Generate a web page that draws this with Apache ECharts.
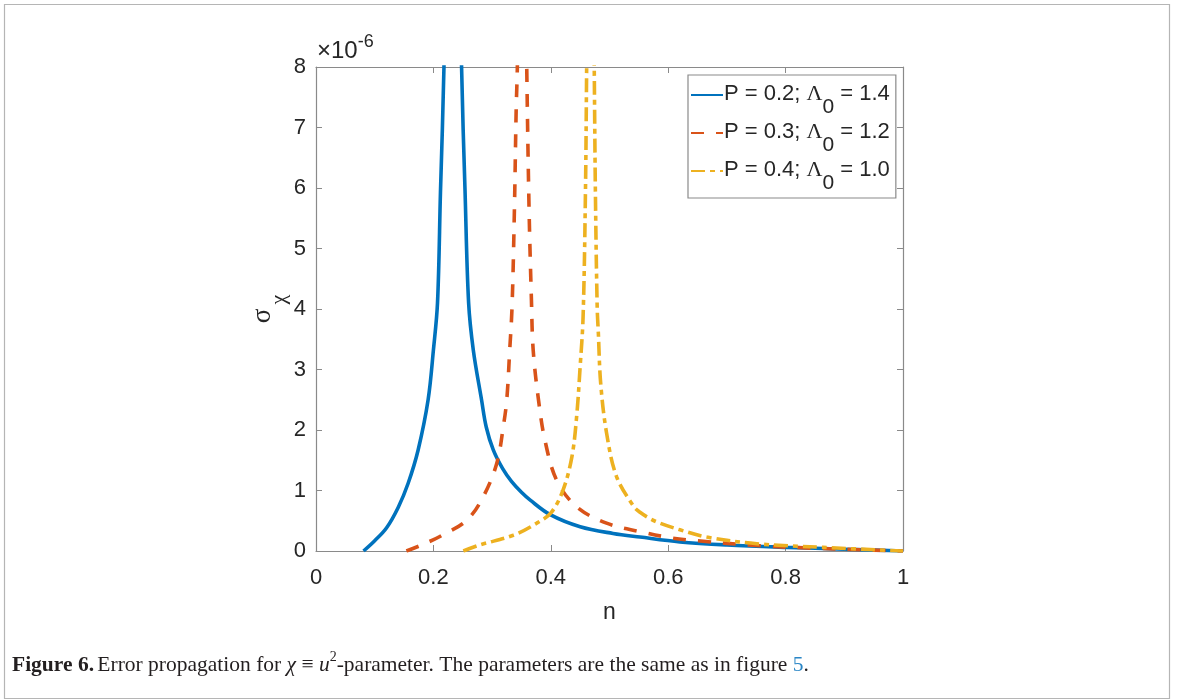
<!DOCTYPE html>
<html><head><meta charset="utf-8">
<script src="https://cdn.jsdelivr.net/npm/echarts@6/dist/echarts.min.js"></script>
<style>html,body{margin:0;padding:0;background:#fff}#c{width:1181px;height:700px}</style>
</head><body><div id="c"></div>
<script>
// ---- data ----
const xTicks = [0, 0.2, 0.4, 0.6, 0.8, 1];
const yTicks = [0, 1, 2, 3, 4, 5, 6, 7, 8];
const pValues = ['0.2', '0.3', '0.4'];
const lambdaValues = ['1.4', '1.2', '1.0'];
const seriesNames = ['P = 0.2; Λ0 = 1.4', 'P = 0.3; Λ0 = 1.2', 'P = 0.4; Λ0 = 1.0'];

const blueData = [
  [0.081, 0], [0.100, 0.17], [0.120, 0.38], [0.140, 0.72], [0.157, 1.12], [0.174, 1.67],
  [0.191, 2.5], [0.200, 3.32], [0.207, 4.1], [0.212, 5.92], [0.218, 8], [0.222, 11],
  [0.244, 11], [0.248, 8], [0.254, 5.92], [0.260, 4.1], [0.268, 3.32], [0.282, 2.5],
  [0.290, 2.05], [0.302, 1.67], [0.318, 1.36], [0.333, 1.15], [0.350, 0.97], [0.365, 0.84],
  [0.399, 0.60], [0.450, 0.40], [0.506, 0.29], [0.552, 0.23], [0.620, 0.15], [0.700, 0.10],
  [0.802, 0.06], [0.900, 0.03], [1.0, 0]
];
const redData = [
  [0.154, 0], [0.180, 0.10], [0.211, 0.24], [0.257, 0.51], [0.285, 0.90], [0.308, 1.45],
  [0.319, 2.05], [0.325, 2.5], [0.330, 3.32], [0.334, 4.04], [0.338, 5.64], [0.341, 7.29],
  [0.343, 8], [0.347, 11], [0.355, 11], [0.359, 8], [0.363, 5.64], [0.367, 4.15], [0.370, 3.32],
  [0.379, 2.5], [0.390, 1.83], [0.410, 1.17], [0.444, 0.73], [0.495, 0.46], [0.552, 0.32],
  [0.603, 0.22], [0.649, 0.17], [0.751, 0.09], [0.850, 0.045], [0.915, 0.025], [1.0, 0]
];
const yellowData = [
  [0.251, 0], [0.279, 0.10], [0.336, 0.26], [0.376, 0.46], [0.401, 0.64], [0.421, 1.01],
  [0.436, 1.56], [0.444, 2.22], [0.450, 3.05], [0.455, 3.87], [0.459, 5.91], [0.461, 7.9],
  [0.464, 11], [0.471, 11], [0.474, 8], [0.476, 5.91], [0.479, 4.04], [0.481, 3.6],
  [0.485, 2.77], [0.495, 1.95], [0.512, 1.23], [0.541, 0.74], [0.552, 0.64], [0.570, 0.53],
  [0.586, 0.46], [0.620, 0.35], [0.666, 0.23], [0.751, 0.12], [0.864, 0.06], [1.0, 0]
];

const colors = ['#0072BD', '#D95319', '#EDB120'];
const dashes = ['solid', [13, 12], [14, 5, 5, 5]];
const dataSets = [blueData, redData, yellowData];

const chart = echarts.init(document.getElementById('c'), null, {renderer: 'canvas'});
const axisGrey = '#8a8a8a';
const textCol = '#262626';
const sans = 'Liberation Sans, Arial, sans-serif';
const serif = 'Liberation Serif, Times New Roman, serif';

function baseX(show) {
  return {
    type: 'value', min: xTicks[0], max: xTicks[xTicks.length - 1], interval: 0.2,
    position: show ? 'bottom' : 'top',
    axisLine: {show: true, onZero: false, lineStyle: {color: axisGrey, width: 1.2}},
    axisTick: {show: true, inside: true, length: 6, lineStyle: {color: axisGrey}},
    axisLabel: {show: show, color: textCol, fontSize: 22, fontFamily: sans, margin: 16},
    splitLine: {show: false}
  };
}
function baseY(show) {
  return {
    type: 'value', min: yTicks[0], max: yTicks[yTicks.length - 1], interval: 1,
    position: show ? 'left' : 'right',
    axisLine: {show: true, onZero: false, lineStyle: {color: axisGrey, width: 1.2}},
    axisTick: {show: true, inside: true, length: 6, lineStyle: {color: axisGrey}},
    axisLabel: {show: show, color: textCol, fontSize: 22, fontFamily: sans, margin: 10},
    splitLine: {show: false}
  };
}

const xMain = baseX(true);
xMain.name = 'n';
xMain.nameLocation = 'middle';
xMain.nameGap = 50;
xMain.nameTextStyle = {color: textCol, fontSize: 23, fontFamily: sans};

const yMain = baseY(true);
yMain.name = '{s|σ}{c|χ}';
yMain.nameLocation = 'middle';
yMain.nameRotate = 90;
yMain.nameGap = 37;
yMain.nameTextStyle = {
  color: textCol,
  rich: {
    s: {fontSize: 27, fontFamily: serif, color: textCol, lineHeight: 26, verticalAlign: 'top'},
    c: {fontSize: 22, fontFamily: serif, color: textCol, lineHeight: 22, padding: [18, 0, 0, 4], verticalAlign: 'top'}
  }
};

const option = {
  backgroundColor: '#ffffff',
  animation: false,
  grid: {left: 316, top: 67, width: 587, height: 484, containLabel: false},
  xAxis: [xMain, baseX(false)],
  yAxis: [yMain, baseY(false)],
  legend: {
    orient: 'vertical',
    left: 688, top: 75,
    padding: [8, 6, 4, 2],
    itemGap: 3,
    itemWidth: 32,
    itemHeight: 14,
    backgroundColor: '#ffffff',
    borderColor: '#8a8a8a',
    borderWidth: 1.2,
    borderRadius: 0,
    itemStyle: {opacity: 0},
    data: seriesNames,
    formatter: function (name) {
      const i = seriesNames.indexOf(name);
      return '{a|P = ' + pValues[i] + '; }{l|Λ}{s|0}{a| = ' + lambdaValues[i] + '}';
    },
    textStyle: {
      color: textCol,
      padding: [0, 0, 0, -4],
      rich: {
        a: {fontSize: 22, fontFamily: sans, color: textCol, lineHeight: 24, verticalAlign: 'top'},
        l: {fontSize: 22, fontFamily: serif, color: textCol, lineHeight: 24, verticalAlign: 'top'},
        s: {fontSize: 21, fontFamily: sans, color: textCol, lineHeight: 20, padding: [14, 0, 0, 0], verticalAlign: 'top'}
      }
    }
  },
  series: dataSets.map(function (d, i) {
    return {
      name: seriesNames[i],
      type: 'line',
      data: d,
      xAxisIndex: 0, yAxisIndex: 0,
      showSymbol: false, symbol: 'none',
      smooth: 0.35,
      clip: true,
      color: colors[i],
      lineStyle: {color: colors[i], width: 3.6, type: dashes[i], cap: 'butt'},
      z: 3 + i
    };
  }),
  graphic: [
    {type: 'rect', left: 2, top: 2, shape: {width: 1165, height: 694},
     style: {fill: 'none', stroke: '#b5b5b5', lineWidth: 1.2}, silent: true},
    {type: 'text', left: 317, top: 33,
     style: {text: '{m|×10}{e|-6}', rich: {
       m: {fontSize: 24, fontFamily: sans, fill: textCol, lineHeight: 30, verticalAlign: 'bottom'},
       e: {fontSize: 18, fontFamily: sans, fill: textCol, lineHeight: 18, verticalAlign: 'top'}
     }}},
    {type: 'text', left: 12, top: 650,
     style: {text: '{b|Figure 6.} {r|Error propagation for }{i|χ}{r| ≡ }{i|u}{p|2}{r|-parameter. The parameters are the same as in figure }{k|5}{r|.}',
       rich: {
         b: {fontSize: 21.5, fontFamily: serif, fontWeight: 'bold', fill: '#231f20', lineHeight: 26, verticalAlign: 'bottom'},
         r: {fontSize: 21.5, fontFamily: serif, fill: '#231f20', lineHeight: 26, verticalAlign: 'bottom'},
         i: {fontSize: 21.5, fontFamily: serif, fontStyle: 'italic', fill: '#231f20', lineHeight: 26, verticalAlign: 'bottom'},
         p: {fontSize: 14, fontFamily: serif, fill: '#231f20', lineHeight: 16, verticalAlign: 'top'},
         k: {fontSize: 21.5, fontFamily: serif, fill: '#2a86c6', lineHeight: 26, verticalAlign: 'bottom'}
       }}}
  ]
};
chart.setOption(option);
</script>
</body></html>
